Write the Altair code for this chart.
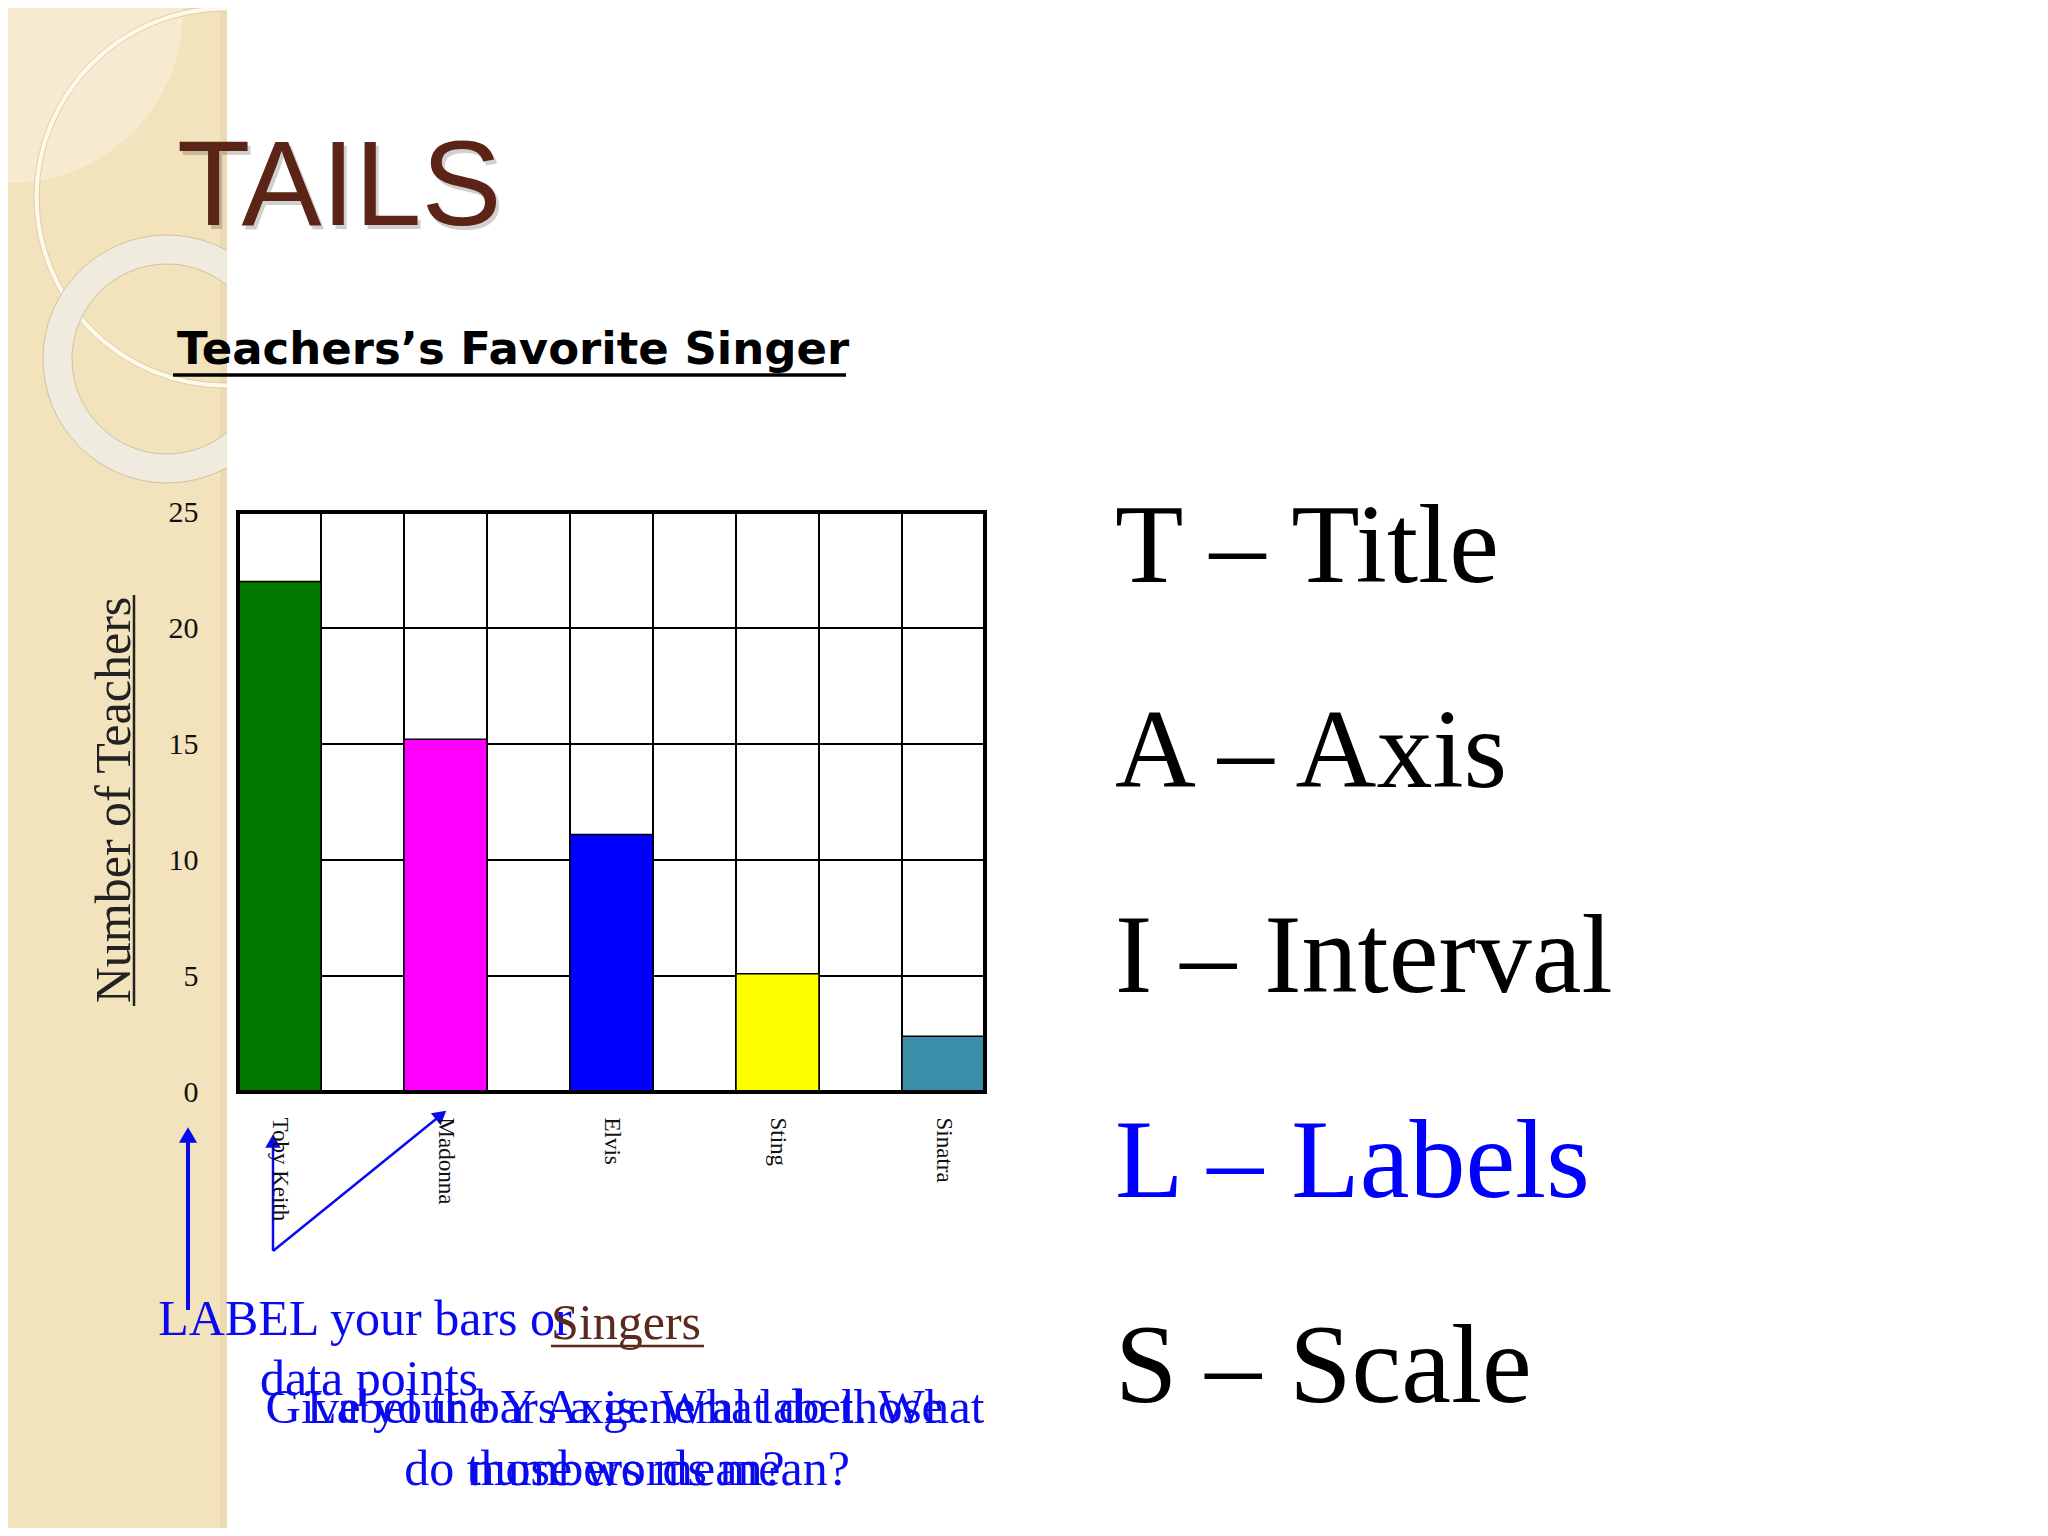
import altair as alt
import pandas as pd

# ---------------- data ----------------
singers = ["Toby Keith", "Madonna", "Elvis", "Sting", "Sinatra"]
teachers = [22, 15.2, 11.1, 5.1, 2.4]
bar_colors = ["#007800", "#FF00FF", "#0000FF", "#FFFF00", "#3A8EA8"]
x_slots = ["Toby Keith", " ", "Madonna", "  ", "Elvis", "   ", "Sting", "    ", "Sinatra"]
y_ticks = [0, 5, 10, 15, 20, 25]
grid_values = [5, 10, 15, 20]
list_items = ["T – Title", "A – Axis", "I – Interval", "L – Labels", "S – Scale"]
list_colors = ["#000000", "#000000", "#000000", "#0000FF", "#000000"]

W, H = 747, 580
PL, PT = 230, 504  # plot origin at page (238, 512)

bars_df = pd.DataFrame({"singer": singers, "teachers": teachers})
vgrid_df = pd.DataFrame({"singer": x_slots[1:]})
hgrid_df = pd.DataFrame({"teachers": grid_values})
one = pd.DataFrame({"k": [0]})

xscale = alt.Scale(domain=x_slots, paddingInner=0, paddingOuter=0)
yscale = alt.Scale(domain=[0, 25])
xaxis = alt.Axis(title=None, labelAngle=90, labelAlign="left", labelBaseline="middle",
                 labelFont="Liberation Serif", labelFontSize=23, labelColor="#111",
                 labelPadding=25, ticks=False, domain=False, grid=False, zindex=1)
yaxis = alt.Axis(title=None, values=y_ticks, labelFont="Liberation Serif", labelFontSize=30,
                 labelColor="#111", labelPadding=40, ticks=False, domain=False, grid=False,
                 zindex=1)


def px(v):
    return alt.value(v)


# ------------- decorations (page coords -> plot coords: x-238, y-512) -------------
beige = alt.Chart(one).mark_rect(color="#F2E3BC").encode(
    x=px(-230), x2=px(-11), y=px(-504), y2=px(1016))
edge = alt.Chart(one).mark_rect(color="#D9C79A", opacity=0.3).encode(
    x=px(-18), x2=px(-11), y=px(-504), y2=px(1016))
lens = alt.Chart(one).mark_arc(color="#FFFFFF", opacity=0.3).encode(
    x=px(-227), y=px(-501), radius=px(172), theta=px(0), theta2=px(6.2832))
big_arc = alt.Chart(one).mark_arc(color="#FFF9EA", stroke="#CDBB90", strokeWidth=0.6).encode(
    x=px(-13), y=px(-315), radius=px(191), radius2=px(186), theta=px(0), theta2=px(6.2832))
ring = alt.Chart(one).mark_arc(color="#F0ECE2", opacity=0.93, stroke="#CFC19C", strokeWidth=1).encode(
    x=px(-71), y=px(-153), radius=px(124), radius2=px(95), theta=px(0), theta2=px(6.2832))
white_cover = alt.Chart(one).mark_rect(color="#FFFFFF").encode(
    x=px(-11), x2=px(230), y=px(-504), y2=px(-8))

# ------------- chart -------------
hgrid = alt.Chart(hgrid_df).mark_rule(color="#000", strokeWidth=2).encode(
    y=alt.Y("teachers:Q", scale=yscale, axis=yaxis))
vgrid = alt.Chart(vgrid_df).mark_rule(color="#000", strokeWidth=2).encode(
    x=alt.X("singer:N", scale=xscale, axis=xaxis, bandPosition=0))
bars = alt.Chart(bars_df).mark_bar(stroke="#000", strokeWidth=1.5).encode(
    x=alt.X("singer:N", scale=xscale, axis=xaxis, sort=x_slots),
    y=alt.Y("teachers:Q", scale=yscale, axis=yaxis),
    color=alt.Color("singer:N", scale=alt.Scale(domain=singers, range=bar_colors), legend=None),
)
frame = alt.Chart(one).mark_rect(filled=False, stroke="#000", strokeWidth=4).encode(
    x=px(0), x2=px(W), y=px(0), y2=px(H))


# ------------- texts -------------
def text(s, x, y, size, font="Liberation Serif", color="#000", align="left", angle=0,
         weight="normal", opacity=1.0):
    kw = dict(font=font, fontSize=size, color=color, align=align, baseline="alphabetic",
              fontWeight=weight, opacity=opacity)
    if angle:
        kw["angle"] = angle
    return alt.Chart(one).mark_text(**kw).encode(x=px(x), y=px(y), text=alt.value(s))


def hline(x1, x2, y, w, color):
    return alt.Chart(one).mark_rule(color=color, strokeWidth=w).encode(
        x=px(x1), x2=px(x2), y=px(y))


def seg(x1, y1, x2, y2, w, color):
    return alt.Chart(one).mark_rule(color=color, strokeWidth=w).encode(
        x=px(x1), x2=px(x2), y=px(y1), y2=px(y2))


def head(x, y, angle, size, color):
    return alt.Chart(one).mark_point(shape="triangle-up", filled=True, color=color, opacity=1,
                                     size=size, angle=angle).encode(x=px(x), y=px(y))


tails_shadow = text("TAILS", -58, -283, 120, font="Liberation Sans", color="#000000", opacity=0.18)
tails = text("TAILS", -61, -287, 120, font="Liberation Sans", color="#5B2416")
subtitle = text("Teachers’s Favorite Singer", -61, -148, 45, font="DejaVu Sans", weight="bold")
subtitle_ul = hline(-65, 608, -137, 3.5, "#000")

ytitle = text("Number of Teachers", -108, 288, 50, color="#222", align="center", angle=270)
ytitle_ul = seg(-104, 83, -104, 494, 2.5, "#222")

list_layers = []
for i, (s, c) in enumerate(zip(list_items, list_colors)):
    list_layers.append(text(s, 877, 70 + 205 * i, 112, color=c))

BLUE = "#0A0AF0"
lab1 = text("LABEL your bars or", 127, 823, 50, color=BLUE, align="center")
lab2 = text("data points", 131, 883, 50, color=BLUE, align="center")
singers_t = text("Singers", 313, 827, 50, color="#5B2A1E")
singers_ul = hline(313, 466, 834, 2.5, "#5B2A1E")
q1a = text("Give your bars a general label. What", 387, 911, 49, color=BLUE, align="center")
q1b = text("do those words mean?", 389, 973, 50, color=BLUE, align="center")
q2a = text("Label the Y Axis. What do those", 387, 911, 49, color=BLUE, align="center")
q2b = text("numbers mean?", 389, 973, 50, color=BLUE, align="center")

arrow1 = seg(-50, 798, -50, 628, 4, BLUE)
arrow1h = head(-50, 623, 0, 330, BLUE)
arrow2 = seg(35, 739, 35, 632, 2.5, BLUE)
arrow2h = head(35, 629, 0, 240, BLUE)
arrow3 = seg(35, 739, 203, 603, 2.5, BLUE)
arrow3h = head(203, 603, 51, 240, BLUE)

chart = alt.layer(
    beige, edge, lens, big_arc, ring, white_cover,
    hgrid, vgrid, bars, frame,
    tails_shadow, tails, subtitle, subtitle_ul, ytitle, ytitle_ul,
    *list_layers,
    lab1, lab2, singers_t, singers_ul, q1a, q1b, q2a, q2b,
    arrow1, arrow1h, arrow2, arrow2h, arrow3, arrow3h,
).properties(
    width=W, height=H,
    autosize=alt.AutoSizeParams(type="none"),
    padding={"left": PL, "top": PT, "right": 2032 - PL - W, "bottom": 1520 - PT - H},
    background="#FFFFFF",
).configure_view(stroke=None)

chart.save("out.html", embed_options={"renderer": "svg", "actions": False})
